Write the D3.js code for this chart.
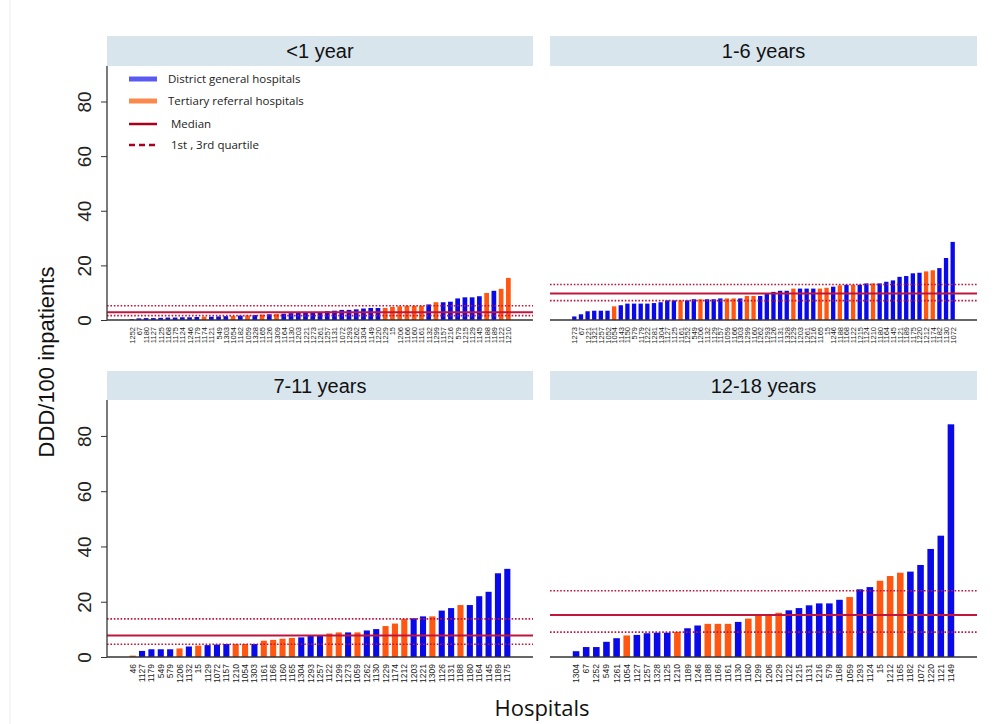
<!DOCTYPE html>
<html>
<head>
<meta charset="utf-8">
<script src="https://cdn.jsdelivr.net/npm/d3@7"></script>
<style>
body { margin: 0; background: #fff; }
</style>
</head>
<body>
<div id="chart"></div>
<script>
// <1 year
const lt1Ids = [1252,67,1180,1127,1125,1168,1175,1124,1246,1179,1174,1121,549,1303,1054,1182,1059,1328,1165,1126,1309,1164,1130,1203,1221,1273,
  1261,1257,1131,1072,1293,1262,1304,1149,1220,1229,15,1206,1166,1160,1161,1132,1299,1157,1216,579,1215,1129,1145,1188,1189,1122,1210];
const lt1Vals = [0.3,0.6,0.7,0.7,0.8,0.9,0.9,1.0,1.0,1.1,1.2,1.2,1.3,1.4,1.5,1.6,1.7,1.8,2.0,2.1,2.2,2.3,2.5,2.6,2.7,2.8,
  2.9,3.2,3.4,3.7,3.7,3.9,4.2,4.4,4.4,4.4,4.8,5.0,5.2,5.2,5.2,5.7,6.5,6.5,6.7,7.9,8.3,8.3,8.7,9.9,10.7,11.4,15.4];
const lt1Type = "DDDDDDDDDDTDDDTDTDTDTDDDDDDDDDDDDDDTTTTTTDTDDDDDDTDTT".split("");
const lt1Ref = [1.6, 2.8, 5.2];   // Q1, median, Q3

// 1-6 years
const y16Ids = [1273,67,1221,1321,1257,1052,1054,1143,1150,579,1179,1222,1281,1304,1127,1125,1161,1252,549,1206,1132,1129,1157,1059,1166,1303,
  1299,1160,1262,1293,1126,1131,1328,1229,1203,1261,1216,1165,15,1246,1188,1168,1122,1215,1124,1210,1180,1164,1145,1121,1189,1175,1220,1212,1174,1182,1130,1072];
const y16Vals = [1.3,2.1,3.2,3.4,3.4,3.4,5.0,5.4,6.0,6.0,6.0,6.0,6.2,6.5,7.2,7.2,7.2,7.2,7.6,7.6,7.6,7.6,7.9,7.9,7.9,7.9,8.8,8.8,8.8,9.6,10.3,
  10.7,10.7,11.5,11.5,11.5,11.5,11.5,11.8,12.2,12.7,12.9,12.9,12.9,13.4,13.4,13.4,14.0,14.5,15.8,16.1,17.1,17.3,17.8,18.2,19.0,22.7,28.6];
const y16Type = "DDDDDDTDDDDDDDDDTDDTDDDTTDTTDDDDDTDDDTTDTDTDDTDDDDDDDTTDDD".split("");
const y16Ref = [7.1, 9.7, 13.0];

// 7-11 years
const y711Ids = [46,1127,1179,549,579,1206,1132,15,1129,1072,1157,1210,1054,1303,1161,1166,1160,1165,1304,1293,1257,
  1122,1299,1273,1059,1262,1130,1229,1174,1212,1203,1221,1309,1126,1131,1188,1180,1164,1145,1189,1175];
const y711Vals = [0.5,2.2,2.8,2.8,2.8,3.1,3.8,4.1,4.3,4.5,4.7,4.7,4.7,4.7,5.9,6.2,6.6,6.9,7.1,7.6,7.8,
  8.5,8.9,8.9,8.9,9.6,10.1,11.2,12.1,13.8,14.0,14.7,14.7,16.8,17.7,18.8,18.8,22.0,23.6,30.3,31.9];
const y711Type = "TDDDDTDTDDDTTDTTTTDDDTTDTDDTTTDDTDDTDDDDD".split("");
const y711Ref = [4.6, 7.8, 13.8];

// 12-18 years
const y1218Ids = [1304,67,1252,549,1261,1054,1127,1257,1328,1125,1210,1189,1246,1188,1166,1161,1130,1160,1299,
  1206,1229,1122,1215,1131,1216,579,1168,1059,1293,1124,15,1212,1165,1182,1072,1220,1121,1149];
const y1218Vals = [2.1,3.6,3.6,5.5,6.8,7.8,8.0,8.6,8.8,8.8,9.1,10.4,11.4,12.0,12.0,12.0,12.7,13.9,15.2,
  15.2,16.0,16.9,17.7,18.7,19.4,19.4,20.7,21.7,24.5,25.3,27.6,29.3,30.5,30.9,33.3,39.1,43.9,84.2];
const y1218Type = "DDDDDTDDDDTDDTTTDTTTTDDDDDDTDDTTTDDDDD".split("");
const y1218Ref = [9.0, 15.2, 24.0];

const yTicks = [0, 20, 40, 60, 80];

const typeColor = { D: "#0a0ae8", T: "#ff5612" };
const refColor = "#c0163c";

const W = 1000, H = 724;
const svg = d3.select("#chart").append("svg")
  .attr("width", W).attr("height", H)
  .style("font-family", "'Liberation Sans', Arial, sans-serif");

svg.append("line").attr("x1", 10).attr("x2", 10).attr("y1", 0).attr("y2", H)
  .attr("stroke", "#ececec").attr("stroke-width", 1);

const panels = [
  { title: "<1 year", ids: lt1Ids, vals: lt1Vals, type: lt1Type, ref: lt1Ref, x0: 107, x1: 533, stripTop: 36, top: 66, base: 320, yaxis: true, fs: 7.5 },
  { title: "1-6 years", ids: y16Ids, vals: y16Vals, type: y16Type, ref: y16Ref, x0: 550, x1: 977, stripTop: 36, top: 66, base: 320, yaxis: false, fs: 7.5 },
  { title: "7-11 years", ids: y711Ids, vals: y711Vals, type: y711Type, ref: y711Ref, x0: 107, x1: 533, stripTop: 371, top: 400, base: 657, yaxis: true, fs: 8.5 },
  { title: "12-18 years", ids: y1218Ids, vals: y1218Vals, type: y1218Type, ref: y1218Ref, x0: 550, x1: 977, stripTop: 371, top: 400, base: 657, yaxis: false, fs: 8.5 }
];

panels.forEach(p => {
  const g = svg.append("g");

  // strip
  g.append("rect").attr("x", p.x0).attr("y", p.stripTop)
    .attr("width", p.x1 - p.x0).attr("height", p.top - p.stripTop)
    .attr("fill", "#d8e5ec");
  g.append("text").attr("x", (p.x0 + p.x1) / 2).attr("y", p.stripTop + 22)
    .attr("text-anchor", "middle").attr("font-size", 20).attr("fill", "#111")
    .text(p.title);

  const x = d3.scaleBand().domain(p.ids.map(String))
    .range([p.x0 + 21, p.x1 - 21]).paddingInner(0.35).paddingOuter(0.175);
  const y = d3.scaleLinear().domain([0, 93]).range([p.base, p.top]);

  // bars
  g.selectAll("rect.bar").data(p.ids).enter().append("rect")
    .attr("class", "bar")
    .attr("x", d => x(String(d)))
    .attr("width", x.bandwidth())
    .attr("y", (d, i) => y(p.vals[i]))
    .attr("height", (d, i) => y(0) - y(p.vals[i]))
    .attr("fill", (d, i) => typeColor[p.type[i]]);

  // median / quartile lines
  p.ref.forEach((v, i) => {
    g.append("line").attr("x1", p.x0).attr("x2", p.x1)
      .attr("y1", y(v)).attr("y2", y(v))
      .attr("stroke", refColor)
      .attr("stroke-width", i === 1 ? 2 : 1.6)
      .attr("stroke-dasharray", i === 1 ? null : "1.6,1.8");
  });

  // x axis (baseline + rotated hospital ids)
  const xa = g.append("g").attr("transform", `translate(0,${p.base})`)
    .call(d3.axisBottom(x).tickSize(0).tickPadding(0));
  xa.select(".domain").attr("stroke", "#333").attr("stroke-width", 1.5)
    .attr("d", `M${p.x0},0H${p.x1}`);
  xa.selectAll("text")
    .attr("font-size", p.fs).attr("fill", "#222")
    .attr("text-anchor", "end")
    .attr("dy", null).attr("y", 0)
    .attr("transform", "translate(3,7) rotate(-90)");

  if (p.yaxis) {
    const ya = g.append("g").attr("transform", `translate(${p.x0},0)`)
      .call(d3.axisLeft(y).tickValues(yTicks).tickSize(6).tickPadding(0));
    ya.select(".domain").attr("stroke", "#333").attr("stroke-width", 1.3)
      .attr("d", `M0,${p.top}V${p.base}`);
    ya.selectAll(".tick line").attr("stroke", "#333");
    ya.selectAll("text")
      .attr("font-size", 19).attr("fill", "#222")
      .attr("text-anchor", "middle").attr("dy", null).attr("x", 0)
      .attr("transform", "translate(-16,0) rotate(-90)");
  }
});

// legend inside the first panel
const legendItems = [
  { label: "District general hospitals", color: "#5a5af2", w: 5, dash: null },
  { label: "Tertiary referral hospitals", color: "#fa8a4c", w: 5, dash: null },
  { label: " Median", color: "#a8001e", w: 2.5, dash: null },
  { label: " 1st , 3rd quartile", color: "#a8001e", w: 2.5, dash: "6,4" }
];
const lg = svg.append("g").attr("font-family", "'Open Sans', 'Noto Sans', sans-serif");
legendItems.forEach((d, i) => {
  const cy = [79, 101, 124, 145][i];
  lg.append("line").attr("x1", 129).attr("x2", 157).attr("y1", cy).attr("y2", cy)
    .attr("stroke", d.color).attr("stroke-width", d.w)
    .attr("stroke-dasharray", d.dash);
  lg.append("text").attr("x", 168).attr("y", cy + 4)
    .attr("font-size", 11.5).attr("fill", "#222")
    .attr("xml:space", "preserve").style("white-space", "pre")
    .text(d.label);
});

// axis titles
svg.append("text")
  .attr("transform", "translate(54,362) rotate(-90)")
  .attr("text-anchor", "middle").attr("font-size", 22).attr("fill", "#111")
  .text("DDD/100 inpatients");
svg.append("text")
  .attr("x", 542).attr("y", 716)
  .attr("text-anchor", "middle").attr("font-size", 22).attr("fill", "#111")
  .attr("font-family", "'Open Sans', 'Noto Sans', sans-serif")
  .text("Hospitals");
</script>
</body>
</html>
